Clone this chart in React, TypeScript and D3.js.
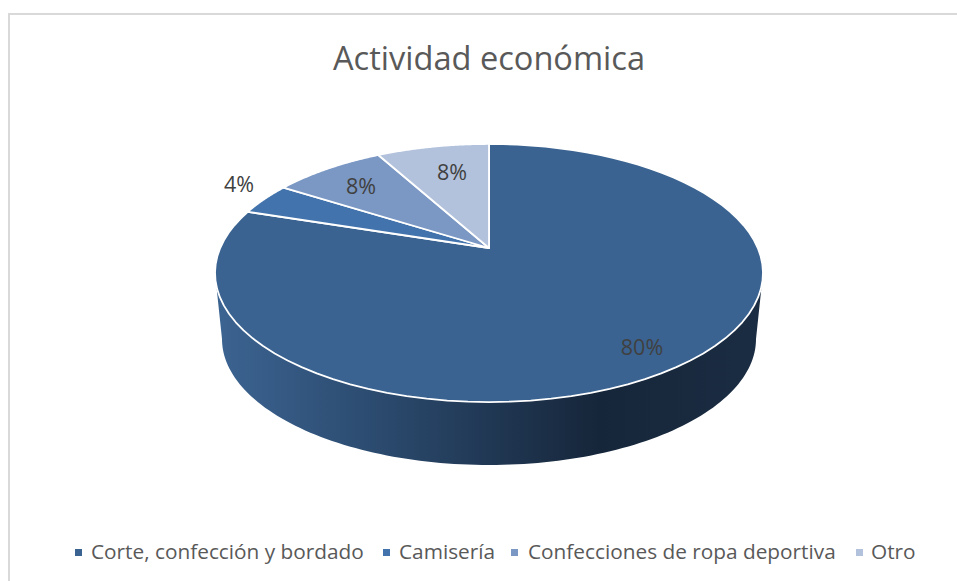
import React from "react";
import * as d3 from "d3";

const categories = ["Corte, confección y bordado", "Camisería", "Confecciones de ropa deportiva", "Otro"];
const values = [80, 4, 8, 8];
const colors = ["#3a6391", "#4373ad", "#7b98c4", "#b3c2dc"];
const labels = ["80%", "4%", "8%", "8%"];
const labelPos: [number, number][] = [[642, 349], [239, 186], [361, 188], [452, 174]];
const legendX = [75, 383, 511, 856];
const legendTextX = [91, 399, 528, 871];

const W = 957, H = 581;
const cx = 489, apexY = 248;
const a = 268.8, b = 124.2, k = 0.1938;

// perspective projection of the unit disc; t is clockwise from 12 o'clock
function proj(t: number, r = 1): [number, number] {
  const u = r * Math.sin(t), v = r * Math.cos(t);
  const d = 1 + k * v;
  return [cx + (a * u) / d, apexY - (b * v) / d];
}
const line = d3.line();
const angleSteps = (s: number, e: number) => d3.range(0, 1.0001, 1 / 80).map(f => s + (e - s) * f);

const pie = d3.pie<number>().sort(null).startAngle(0).endAngle(2 * Math.PI);
const arcs = pie(values);

function slicePath(s: number, e: number) {
  return line([proj(0, 0), ...angleSteps(s, e).map(t => proj(t))]) + "Z";
}

// lower rim ellipse of the wall
const wallRx = 267, wallRy = 126, wallCy = 339;
const wallPts: [number, number][] = [
  [cx - 274, 273],
  ...d3.range(0, 1.0001, 1 / 120).map(f => {
    const t = Math.PI * (1 - f);
    return [cx + wallRx * Math.cos(t), wallCy + wallRy * Math.sin(t)] as [number, number];
  }),
  [cx + 274, 273],
];

export default function App() {
  const font = "'Open Sans', sans-serif";
  return (
    <svg width={W} height={H} style={{ position: "absolute", left: 0, top: 0, background: "#fff" }} fontFamily={font}>
      <defs>
        <linearGradient id="wall" gradientUnits="userSpaceOnUse" x1={215} x2={763} y1={0} y2={0}>
          <stop offset="0" stopColor="#3c6492" />
          <stop offset="0.3" stopColor="#2b4a6e" />
          <stop offset="0.7" stopColor="#16263a" />
          <stop offset="1" stopColor="#1b2d43" />
        </linearGradient>
      </defs>
      <path d={`M9 ${H}V14H${W}`} fill="none" stroke="#d9d9d9" strokeWidth={2} />
      <text x={489} y={70} textAnchor="middle" fontSize={32.6} fill="#595959">Actividad económica</text>
      <path d={line(wallPts) + "Z"} fill="url(#wall)" />
      {arcs.map((d, i) => (
        <path key={i} d={slicePath(d.startAngle, d.endAngle)} fill={colors[i]} stroke="#fff" strokeWidth={1.8} strokeLinejoin="round" />
      ))}
      {labels.map((l, i) => (
        <text key={l + i} x={labelPos[i][0]} y={labelPos[i][1]} textAnchor="middle" dominantBaseline="middle" fontSize={21.5} fill="#404040">{l}</text>
      ))}
      {categories.map((c, i) => (
        <g key={c}>
          <rect x={legendX[i]} y={549} width={7} height={7} fill={colors[i]} />
          <text x={legendTextX[i]} y={559} fontSize={20.8} fill="#595959">{c}</text>
        </g>
      ))}
    </svg>
  );
}
